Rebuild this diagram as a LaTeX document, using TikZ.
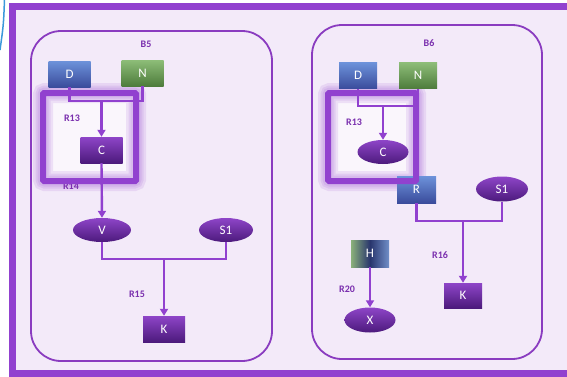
\documentclass[tikz,border=0pt]{standalone}
\usepackage{fontspec}
\setmainfont{Carlito}
\usetikzlibrary{shapes.geometric,arrows.meta}
\definecolor{frameviolet}{HTML}{9141CF}
\definecolor{panelviolet}{HTML}{8A3CC0}
\definecolor{lavender}{HTML}{F3EAF9}
\definecolor{labelviolet}{HTML}{7A2FAE}
\definecolor{violettop}{HTML}{8E45C8}
\definecolor{violetbot}{HTML}{4C1A7C}
\definecolor{bluetop}{HTML}{6D92DA}
\definecolor{bluebot}{HTML}{3A4C9C}
\definecolor{greentop}{HTML}{8DBD78}
\definecolor{greenbot}{HTML}{4E7C3C}
\tikzset{
  box/.style={minimum width=42, minimum height=26, inner sep=0, text=white, font=\fontsize{13}{13}\selectfont},
  pbox/.style={box, top color=violettop, bottom color=violetbot},
  bbox/.style={box, top color=bluetop, bottom color=bluebot},
  gbox/.style={box, top color=greentop, bottom color=greenbot},
  hbox/.style={box, left color=greentop!80!gray, right color=bluetop!80!gray, middle color=bluebot!70!black},
  oval/.style={ellipse, minimum width=54, minimum height=24, inner sep=0, text=white, font=\fontsize{13}{13}\selectfont, top color=violettop, bottom color=violetbot},
  rlabel/.style={text=labelviolet, font=\fontsize{10}{10}\selectfont\bfseries},
  link/.style={draw=frameviolet, line width=2.4},
  arr/.style={link, -{Triangle[width=8,length=7]}},
  panel/.style={draw=panelviolet, line width=1.8, rounded corners=30},
  glow/.style={draw=frameviolet, line width=#1, draw opacity=0.12, rounded corners=2},
  spot/.style={draw=frameviolet, line width=6, rounded corners=1}
}
\begin{document}
\begin{tikzpicture}[x=1pt,y=-1pt]
      \useasboundingbox (0,0) rectangle (567,376);
      \clip (0,0) rectangle (567,376);
      \fill[white] (0,0) rectangle (567,376);
      \draw[cyan!70!blue!80, line width=1.5] (4.5,0) .. controls (3.5,25) .. (0,50);
      \draw[frameviolet, line width=7, fill=lavender] (12,6.5) rectangle (620,373.5);
      %%%%%%%%%%%%%%%%%%%%%%%%%%%%%%%%%%%%%%%%%%%%%%%
      \draw[panel] (31,31) rectangle (272,361);
      \fill[white!55!lavender] (43,93) rectangle (136,181);
      \foreach \w in {20,15,11} \draw[glow=\w] (43,93) rectangle (136,181);
      \node[rlabel] at (146,44) (b5) {B5};
      \node[bbox] at (69.5,74) (d5) {D};
      \node[gbox] at (142.5,73) (n5) {N};
      \node[pbox] at (101.5,150) (c5) {C};
      \node[rlabel] at (71,186) (r14) {R14};
      \coordinate (j5) at (101.5,101);
      \draw[link] (d5.south) |- (j5) -| (n5.south);
      \draw[arr] (j5) -- (c5.north);
      \draw[spot] (43,93) rectangle (136,181);
      \node[rlabel] at (72,118) (r13) {R13};
      \node[oval, minimum width=58] at (102,230) (v5) {V};
      \node[oval] at (226,230) (s5) {S1};
      \node[pbox] at (164,329) (k5) {K};
      \node[rlabel] at (137,294) (r15) {R15};
      \coordinate (m5) at (164,259);
      \draw[arr] (c5.south) -- (v5.north);
      \draw[link] (v5.south) |- (m5) -| (s5.south);
      \draw[arr] (m5) -- (k5.north);
      %%%%%%%%%%%%%%%%%%%%%%%%%%%%%%%%%%%%%%%%%%%%%%%
      \draw[panel] (312,25) rectangle (542,359);
      \fill[white!55!lavender] (328,93) rectangle (416,181);
      \foreach \w in {20,15,11} \draw[glow=\w] (328,93) rectangle (416,181);
      \node[rlabel] at (429,43) (b6) {B6};
      \node[bbox, minimum width=38] at (358,75.5) (d6) {D};
      \node[gbox, minimum width=38] at (418,75.5) (n6) {N};
      \node[oval, minimum width=51] at (383,152) (c6) {C};
      \coordinate (j6) at (383,106);
      \draw[link] (d6.south) |- (j6) -| (n6.south);
      \draw[arr] (j6) -- (c6.north);
      \node[bbox, minimum width=39, minimum height=27] at (416.5,189.5) (r6) {R};
      \draw[spot] (328,93) rectangle (416,181);
      \node[rlabel] at (354,122) (r13b) {R13};
      \node[oval, minimum width=52, minimum height=25] at (502,189) (s6) {S1};
      \node[pbox, minimum width=38, minimum height=25] at (463,295.5) (k6) {K};
      \node[rlabel] at (440,255) (r16) {R16};
      \coordinate (m6) at (463,221);
      \draw[link] (r6.south) |- (m6) -| (s6.south);
      \draw[arr] (m6) -- (k6.north);
      %%%%%%%%%%%%%%%%%%%%%%%%%%%%%%%%%%%%%%%%%%%%%%%
      \node[hbox, minimum width=38, minimum height=27] at (370,253.5) (h6) {H};
      \node[oval, minimum width=51, minimum height=25] at (370,320) (x6) {X};
      \node[rlabel] at (347,289) (r20) {R20};
      \draw[arr] (h6.south) -- (x6.north);
\end{tikzpicture}
\end{document}
